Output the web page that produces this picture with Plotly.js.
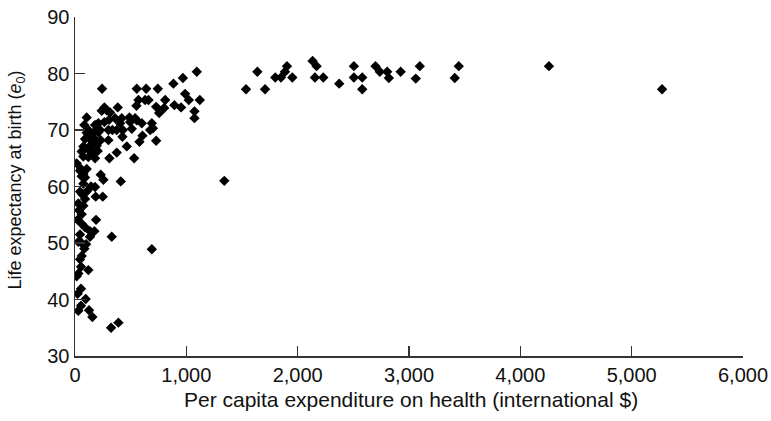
<!DOCTYPE html>
<html>
<head>
<meta charset="utf-8">
<script src="https://cdn.plot.ly/plotly-3.0.1.min.js"></script>
<style>html,body{margin:0;padding:0;background:#fff}#chart{width:771px;height:421px}</style>
</head>
<body>
<div id="chart"></div>
<script>
// Per capita expenditure on health (international $)
const expenditure = [
  243, 555, 639, 744, 570, 630, 660, 810, 552, 729, 801, 756, 384, 264, 240, 285, 315, 105, 360, 420,
  489, 540, 306, 210, 264, 405, 495, 555, 600, 690, 84, 180, 120, 195, 225, 300, 336, 375, 429, 510,
  675, 700, 426, 606, 90, 135, 174, 231, 300, 579, 729, 150, 195, 75, 126, 465, 60, 135, 204, 375,
  120, 180, 309, 531, 15, 54, 105, 75, 60, 90, 231, 255, 411, 144, 180, 45, 105, 186, 249, 66,
  30, 75, 60, 24, 60, 189, 90, 135, 174, 135, 330, 30, 60, 84, 690, 60, 45, 54, 120, 15,
  30, 54, 24, 96, 54, 30, 126, 156, 324, 390,
  105, 165, 90, 165, 75, 210, 45, 60, 75, 90, 36, 45, 100,
  1094, 969, 884, 989, 1022, 1121, 893, 953, 1073, 1073, 1341,
  1536, 1638, 1707, 1799, 1850, 1886, 1904, 1952, 2134, 2170, 2155, 2230, 2373, 2505, 2505, 2580, 2580,
  2699, 2738, 2804, 2819, 2925, 3061, 3097, 3411, 3447, 4257, 5273
];
// Life expectancy at birth (e0), years
const lifeExpectancy = [
  77.3, 77.3, 77.3, 77.3, 75.3, 75.3, 75.3, 75.3, 74.3, 74.1, 73.9, 73.0, 74.0, 74.0, 73.4, 73.5, 73.1, 72.2, 72.1, 72.1,
  72.2, 72.1, 71.8, 71.2, 71.4, 71.2, 71.4, 71.7, 71.2, 71.2, 70.9, 70.9, 70.0, 70.0, 70.0, 70.0, 70.0, 70.0, 70.0, 70.2,
  70.0, 70.3, 68.8, 69.0, 68.4, 68.4, 68.4, 68.2, 68.2, 67.9, 68.1, 67.5, 67.2, 67.1, 66.9, 67.1, 66.2, 66.3, 66.3, 66.0,
  65.2, 65.0, 65.0, 65.0, 64.1, 63.1, 63.1, 62.2, 61.8, 61.6, 62.1, 61.2, 60.9, 60.0, 59.9, 59.1, 59.1, 58.2, 58.2, 58.6,
  57.0, 56.6, 55.1, 54.1, 53.4, 54.1, 52.8, 52.1, 52.1, 51.1, 51.1, 50.2, 50.0, 49.0, 48.9, 47.7, 47.1, 45.8, 45.2, 44.1,
  44.6, 41.9, 41.0, 40.1, 38.9, 38.0, 38.1, 36.9, 35.0, 35.9,
  69.5, 69.5, 66.8, 66.0, 65.3, 69.6, 62.8, 62.6, 60.5, 57.8, 55.8, 51.5, 49.8,
  80.3, 79.2, 78.2, 76.4, 75.3, 75.3, 74.4, 74.0, 73.3, 72.1, 61.0,
  77.2, 80.3, 77.2, 79.3, 79.3, 80.3, 81.3, 79.3, 82.2, 81.3, 79.3, 79.3, 78.2, 81.3, 79.3, 79.3, 77.2,
  81.3, 80.3, 80.3, 79.2, 80.3, 79.1, 81.3, 79.2, 81.3, 81.3, 77.2
];
const xTitle = 'Per capita expenditure on health (international $)';
const yTitle = 'Life expectancy at birth (<i>e</i><sub>0</sub>)';

const family = '"Liberation Sans", Arial, sans-serif';
const tickFont = {family: family, size: 20, color: '#111'};
const xTitleFont = {family: family, size: 21, color: '#111'};
const yTitleFont = {family: family, size: 18, color: '#111'};

Plotly.newPlot('chart', [{
  type: 'scatter',
  mode: 'markers',
  x: expenditure,
  y: lifeExpectancy,
  marker: {symbol: 'diamond', size: 8, color: '#000'},
  hoverinfo: 'x+y'
}], {
  width: 771, height: 421,
  margin: {l: 75, r: 28, t: 17, b: 65},
  paper_bgcolor: '#fff', plot_bgcolor: '#fff',
  font: tickFont,
  showlegend: false,
  xaxis: {
    range: [0, 6000], dtick: 1000, tick0: 0, tickformat: ',d',
    showgrid: false, zeroline: false,
    showline: true, linecolor: '#333', linewidth: 1.5,
    ticks: 'inside', ticklen: 10, tickwidth: 1.2, tickcolor: '#333',
    tickfont: tickFont
  },
  yaxis: {
    range: [30, 90], dtick: 10, tick0: 30,
    showgrid: false, zeroline: false,
    showline: true, linecolor: '#333', linewidth: 1.5,
    ticks: 'inside', ticklen: 10, tickwidth: 1.2, tickcolor: '#333',
    tickfont: tickFont
  },
  annotations: [
    {text: xTitle, font: xTitleFont, xref: 'paper', yref: 'paper',
     x: 0.503, y: -0.127, xanchor: 'center', yanchor: 'middle', showarrow: false},
    {text: yTitle, font: yTitleFont, xref: 'paper', yref: 'paper', textangle: -90,
     x: -0.087, y: 0.52, xanchor: 'center', yanchor: 'middle', showarrow: false}
  ]
}, {displayModeBar: false, staticPlot: true});
</script>
</body>
</html>
